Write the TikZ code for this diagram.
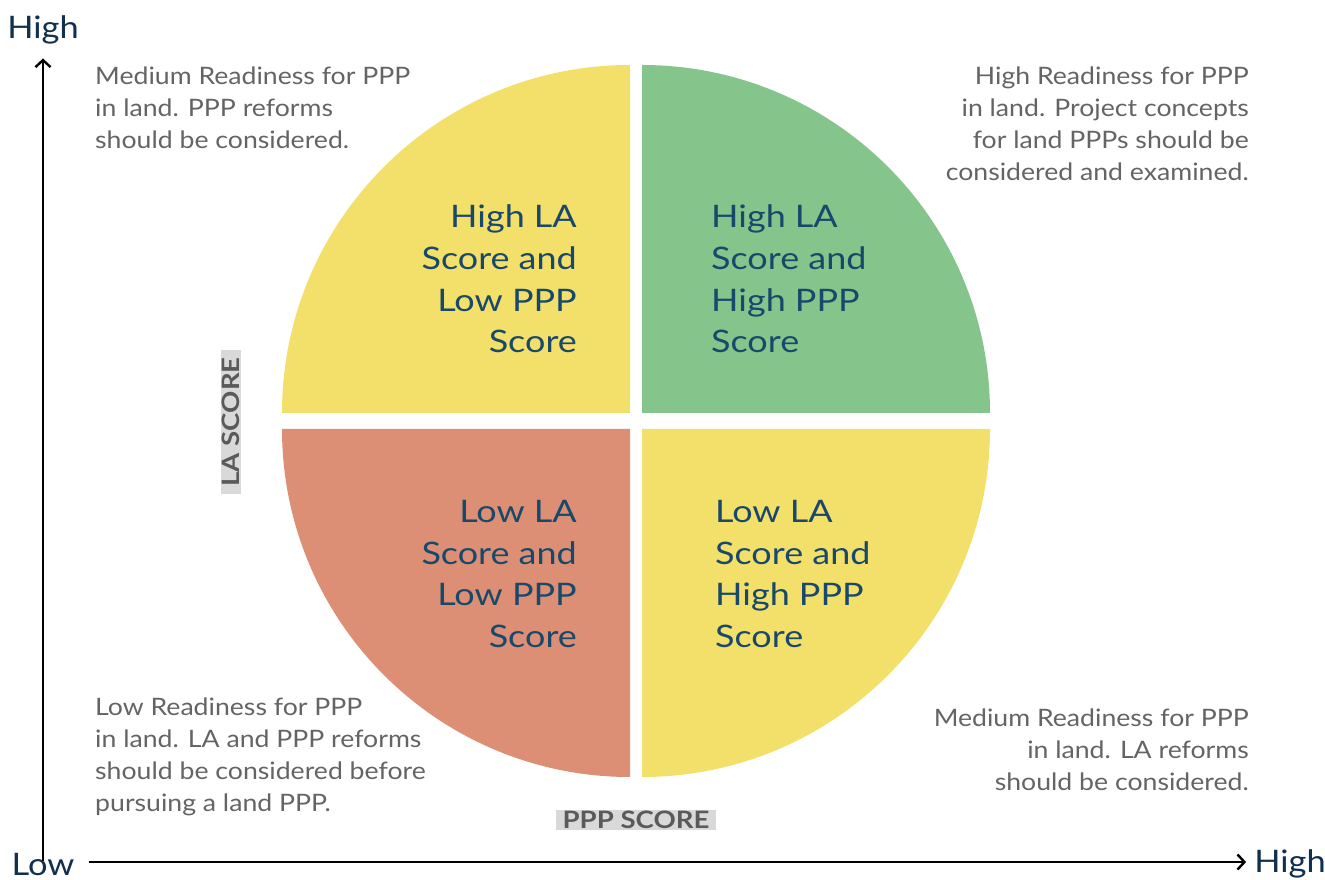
\documentclass[tikz,border=0pt]{standalone}
\usepackage{fontspec}
\setmainfont{Lato}
\newfontfamily\quadfont[FakeStretch=1.16]{Lato}
\newfontfamily\notefont[FakeStretch=1.11]{Lato}
\newfontfamily\boxfont[FakeStretch=1.15]{Lato}
\usetikzlibrary{positioning, arrows.meta}
\definecolor{myellow}{RGB}{243,224,107}
\definecolor{mgreen}{RGB}{133,196,139}
\definecolor{mred}{RGB}{221,143,117}
\definecolor{mnavy}{RGB}{24,73,107}
\definecolor{maxis}{RGB}{16,48,78}
\definecolor{mgray}{RGB}{100,100,100}
\definecolor{mbox}{RGB}{217,217,217}

\begin{document}
\begin{tikzpicture}[x=1pt, y=1pt,
    quadtext/.style={inner sep=0pt, text=mnavy, font=\quadfont\fontsize{31}{41.7}\selectfont},
    notetext/.style={inner sep=0pt, text=mgray, font=\notefont\fontsize{24}{32}\selectfont},
    axislabel/.style={inner sep=0pt, text=maxis, font=\notefont\fontsize{31}{36}\selectfont},
    scorebox/.style={fill=mbox, text=mgray!90!black, inner xsep=7pt, inner ysep=1.5pt,
      font=\boxfont\bfseries\fontsize{24}{25}\selectfont},
    axisline/.style={line width=2.4pt, -{Straight Barb[length=7pt, width=15pt, line width=2.4pt]}}]
  \useasboundingbox (0,0) rectangle (1325,879);
  % the four quarters of the circle
  \fill[myellow] (630,466) -- ++(-348,0) arc (180:90:348) -- cycle;
  \fill[mgreen]  (642,466) -- ++(348,0) arc (0:90:348) -- cycle;
  \fill[mred]    (630,450) -- ++(-348,0) arc (180:270:348) -- cycle;
  \fill[myellow] (642,450) -- ++(348,0) arc (0:-90:348) -- cycle;

  \node[quadtext, anchor=east, align=right] (tl) at (577,600) {High LA\\Score and\\Low PPP\\Score};
  \node[quadtext, anchor=west, align=left] (tr) at (711,600) {High LA\\Score and\\High PPP\\Score};
  \node[quadtext, anchor=east, align=right] (bl) at (577,305) {Low LA\\Score and\\Low PPP\\Score};
  \node[quadtext, anchor=west, align=left] (br) at (715,305) {Low LA\\Score and\\High PPP\\Score};

  % notes in the corners
  \node[notetext, anchor=west, align=left] (notetl) at (95,771)
    {Medium Readiness for PPP\\in land. PPP reforms\\should be considered.};
  \node[notetext, anchor=east, align=right] (notetr) at (1249,755)
    {High Readiness for PPP\\in land. Project concepts\\for land PPPs should be\\considered and examined.};
  \node[notetext, anchor=west, align=left] (notebl) at (95,122)
    {Low Readiness for PPP\\in land. LA and PPP reforms\\should be considered before\\pursuing a land PPP.};
  \node[notetext, anchor=east, align=right] (notebr) at (1249,129)
    {Medium Readiness for PPP\\in land. LA reforms\\should be considered.};

  \node[scorebox, rotate=90] (lascore) at (231,457) {LA SCORE};
  \node[scorebox] (pppscore) at (636,59) {PPP SCORE};

  % axes
  \node[axislabel] (low) at (43,15) {Low};
  \node[axislabel] (hightop) at (43,849) {High};
  \node[axislabel] (highright) at (1290,15) {High};
  \draw[axisline] ([yshift=-8pt]low.north) -- ([yshift=-14pt]hightop.south);
  \draw[axisline] ([xshift=14pt]low.east |- 0,17) -- ([xshift=-8pt]highright.west |- 0,17);
\end{tikzpicture}
\end{document}
